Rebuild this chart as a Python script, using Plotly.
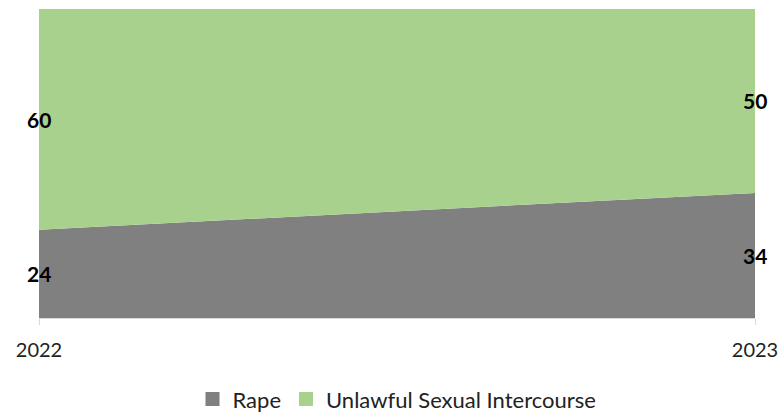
import plotly.graph_objects as go

years = [2022, 2023]
year_labels = ["2022", "2023"]
series_names = ["Rape", "Unlawful Sexual Intercourse"]
rape = [24, 34]
usi = [60, 50]
colors = ["#808080", "#A9D18E"]

fig = go.Figure()
for name, vals, col in zip(series_names, [rape, usi], colors):
    fig.add_trace(go.Scatter(
        x=years, y=vals, name=name, mode="none",
        stackgroup="one", groupnorm="percent",
        fillcolor=col, line=dict(width=0), showlegend=False,
    ))
# legend entries with square swatches
for name, col in zip(series_names, colors):
    fig.add_trace(go.Scatter(
        x=[None], y=[None], name=name, mode="markers",
        marker=dict(symbol="square", size=14, color=col),
    ))

annotations = []
for i, yr in enumerate(years):
    total = rape[i] + usi[i]
    r_pct = rape[i] / total * 100
    u_pct = usi[i] / total * 100
    for val, mid in [(rape[i], r_pct / 2), (usi[i], r_pct + u_pct / 2)]:
        annotations.append(dict(
            x=yr, y=mid, xref="x", yref="y", text="<b>%d</b>" % val,
            showarrow=False, font=dict(size=21, color="black", family="Lato"),
            xanchor="center", yanchor="middle",
        ))

fig.update_layout(
    width=779, height=414,
    margin=dict(l=39, r=24, t=9, b=96, autoexpand=False),
    paper_bgcolor="white", plot_bgcolor="white",
    font=dict(family="Lato", size=20, color="#222"),
    xaxis=dict(range=[2022, 2023], tickvals=years, ticktext=year_labels,
               showgrid=False, zeroline=False, showline=True,
               linecolor="#d9d9d9", linewidth=1,
               ticks="outside", ticklen=6, tickcolor="#d9d9d9",
               tickfont=dict(size=20, color="#222"), automargin=False,
               ticklabeloverflow="allow", ticklabelstandoff=8),
    yaxis=dict(range=[0, 100], visible=False, automargin=False),
    legend=dict(orientation="h", x=0.5, xanchor="center", y=-0.195, yanchor="top",
                font=dict(size=22, color="#222"), traceorder="normal",
                itemwidth=30),
    annotations=annotations,
    showlegend=True,
)

fig.write_html("out.html", config={"displayModeBar": False},
               post_script="document.body.style.margin='0';document.body.style.padding='0';")
